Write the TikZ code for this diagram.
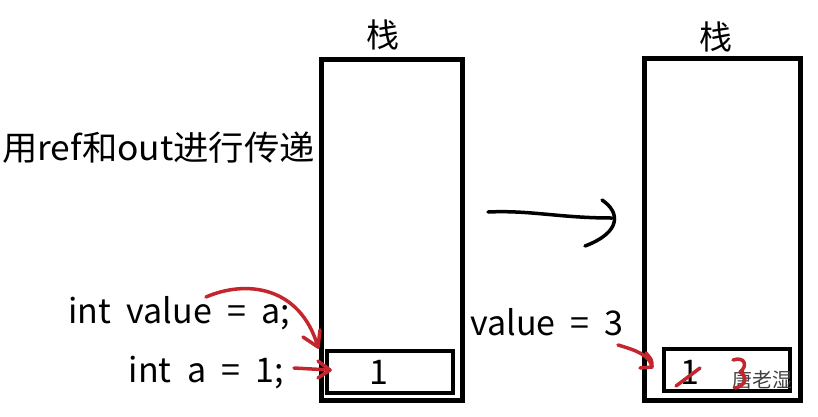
\documentclass[tikz,border=0pt]{standalone}
\usepackage{fontspec}
\setmainfont[WordSpace=2.0]{Noto Sans CJK SC}
\usetikzlibrary{arrows.meta}
\definecolor{penred}{HTML}{C4262E}
\tikzset{
  stackbox/.style={draw=black, line width=5pt, inner sep=0pt},
  cell/.style={draw=black, line width=4.5pt, inner sep=0pt},
  lbl/.style={font=\fontsize{34}{36}\selectfont, inner sep=0pt},
  redpen/.style={draw=penred, line width=3.5pt, line cap=round, line join=round},
  blackpen/.style={draw=black, line width=3.5pt, line cap=round, line join=round},
}
\begin{document}
\begin{tikzpicture}[x=1pt,y=-1pt]
\useasboundingbox (0,0) rectangle (818,416);
% stacks
\draw[stackbox] (321,59) rectangle (462,400);
\draw[stackbox] (644,58) rectangle (800,400);
\node[lbl, font=\fontsize{33}{35}\selectfont] (t1) at (383,35) {栈};
\node[lbl, font=\fontsize{33}{35}\selectfont] (t2) at (716,37) {栈};
% cells
\node[cell, minimum width=126pt, minimum height=42pt] (c1) at (390,372) {};
\node[lbl] (v1) at (379,372) {1};
\node[cell, minimum width=126pt, minimum height=42pt] (c2) at (727,370) {};
\node[lbl] (v2) at (690,372) {1};
\node[font=\fontsize{20}{22}\selectfont, text=black!75, inner sep=0pt] (wm) at (762,380) {唐老湿};
% labels
\node[lbl, anchor=west, xscale=1.04] (title) at (2,148) {用ref和out进行传递};
\node[lbl, anchor=east] (iv) at (290,313) {int value = a;};
\node[lbl, anchor=east] (ia) at (284,373) {int a = 1;};
\node[lbl, anchor=west] (v3) at (470,322) {value = 3};
% red arrows
\coordinate (r1a) at (206,297);
\coordinate (r1b) at (318,347);
\draw[redpen] (r1a) .. controls (245,280) and (300,285) .. (r1b);
\draw[redpen] (303,337) -- (r1b) -- (320,330);
\coordinate (r2a) at (294,368);
\coordinate (r2b) at (330,370);
\draw[redpen] (r2a) -- (r2b);
\draw[redpen] (318,361) -- (r2b) -- (318,378);
\coordinate (r3a) at (618,345);
\coordinate (r3b) at (652,367);
\draw[redpen] (r3a) .. controls (635,350) and (650,355) .. (r3b);
\draw[redpen] (646,353) .. controls (652,360) .. (r3b) -- (640,368);
% strike-through and new value
\draw[redpen] (676,386) -- (700,368);
\draw[redpen] (733,360) .. controls (745,356) and (748,366) .. (740,372) .. controls (748,376) and (746,386) .. (735,388);
% black transition arrow
\coordinate (ba) at (488,212);
\draw[blackpen] (ba) .. controls (530,210) and (560,218) .. (612,218);
\draw[blackpen] (602,200) .. controls (620,212) and (622,232) .. (585,246);
\end{tikzpicture}
\end{document}
